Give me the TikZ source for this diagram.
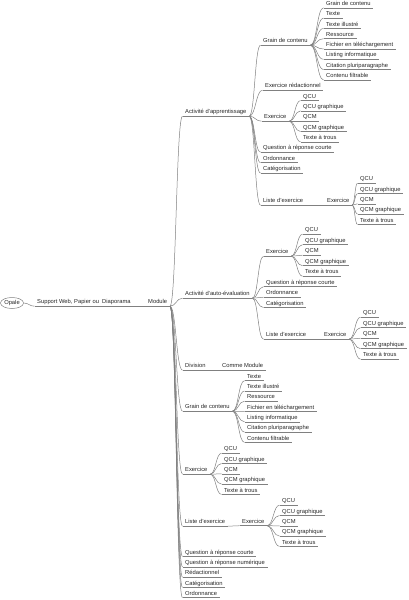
\documentclass[tikz,border=0pt]{standalone}
\usepackage{fontspec}
\setmainfont{Liberation Sans}
\usetikzlibrary{shapes.geometric}
\newcommand\mnode[4]{\node[mnd] (#1) at (#2-2.5,#3+3.2) {#4}; \draw[ul] (#1.south west) -- (#1.south east);}
\newcommand\mlink[2]{\path (#1.south east) -- (#2.south west) coordinate[pos=0.5] (mm);
  \draw[ln] (#1.south east) .. controls (mm |- #1.south east) and (mm |- #2.south west) .. (#2.south west);}
\newcommand\fivex[7]{% prefix, x, y1..y5
  \mnode{#1a}{#2}{#3}{QCU}\mnode{#1b}{#2}{#4}{QCU graphique}\mnode{#1c}{#2}{#5}{QCM}%
  \mnode{#1d}{#2}{#6}{QCM graphique}\mnode{#1e}{#2}{#7}{Texte à trous}}
\begin{document}
\begin{tikzpicture}[x=1pt,y=-1pt,
  mnd/.style={anchor=south west, inner xsep=2.5pt, inner ysep=1pt, text height=4.3pt, text depth=1.2pt,
    font=\fontsize{5.8}{6}\selectfont, text=black!85},
  ul/.style={draw=black!50, line width=0.5pt},
  ln/.style={draw=black!50, line width=0.5pt}]
\useasboundingbox (0,0) rectangle (408,600);
% root
\node[draw=black!50, line width=0.5pt, ellipse, minimum width=23pt, minimum height=11pt, inner sep=0pt,
  font=\fontsize{5.8}{6}\selectfont, text=black!85] (opale) at (12,303) {Opale};
\mnode{sup}{37}{303}{Support Web, Papier ou\ \ Diaporama}
\mnode{mod}{148}{303}{Module}
\draw[ln] (opale.east) .. controls +(5,0) and +(-5,0) .. (sup.south west);
\mlink{sup}{mod}
% level 2
\mnode{A}{185}{113}{Activité d'apprentissage}
\mnode{B}{185}{295}{Activité d'auto-évaluation}
\mnode{C}{185}{367}{Division}
\mnode{D}{185}{408}{Grain de contenu}
\mnode{E}{185}{471}{Exercice}
\mnode{F}{185}{523}{Liste d'exercice}
\mnode{G}{185}{553.3}{Question à réponse courte}
\mnode{H}{185}{563.6}{Question à réponse numérique}
\mnode{I}{185}{574}{Rédactionnel}
\mnode{J}{185}{584.2}{Catégorisation}
\mnode{K}{185}{594.5}{Ordonnance}
\foreach \c in {A,B,C,D,E,F,G,H,I,J,K} {\mlink{mod}{\c}}
% A subtree
\mnode{Aa}{263}{42}{Grain de contenu}
\mnode{Aa1}{326}{4.6}{Grain de contenu}
\mnode{Aa2}{326}{14.9}{Texte}
\mnode{Aa3}{326}{25.2}{Texte illustré}
\mnode{Aa4}{326}{35.5}{Ressource}
\mnode{Aa5}{326}{45.8}{Fichier en téléchargement}
\mnode{Aa6}{326}{56.1}{Listing informatique}
\mnode{Aa7}{326}{66.4}{Citation pluriparagraphe}
\mnode{Aa8}{326}{76.7}{Contenu filtrable}
\foreach \c in {1,...,8} {\mlink{Aa}{Aa\c}}
\mnode{Ab}{265}{87}{Exercice rédactionnel}
\mnode{Ac}{264}{118}{Exercice}
\fivex{Ac}{303}{97.4}{107.7}{118}{128.3}{138.6}
\foreach \c in {a,b,c,d,e} {\mlink{Ac}{Ac\c}}
\mnode{Ad}{263}{149}{Question à réponse courte}
\mnode{Ae}{263}{159.5}{Ordonnance}
\mnode{Af}{263}{169.8}{Catégorisation}
\mnode{Ag}{263}{202}{Liste d'exercice}
\mnode{Agx}{327}{202}{Exercice}
\fivex{Agx}{360}{180}{190.3}{200.6}{210.9}{221.2}
\foreach \c in {a,b,c,d,e} {\mlink{Agx}{Agx\c}}
\mlink{Ag}{Agx}
\foreach \c in {Aa,Ab,Ac,Ad,Ae,Af,Ag} {\mlink{A}{\c}}
% B subtree
\mnode{Ba}{266}{253}{Exercice}
\fivex{Ba}{305}{231}{241.5}{252}{262.5}{273}
\foreach \c in {a,b,c,d,e} {\mlink{Ba}{Ba\c}}
\mnode{Bb}{266}{283.5}{Question à réponse courte}
\mnode{Bc}{266}{294}{Ordonnance}
\mnode{Bd}{266}{304.3}{Catégorisation}
\mnode{Be}{266}{336}{Liste d'exercice}
\mnode{Bex}{324}{336}{Exercice}
\fivex{Bex}{363}{314}{324.5}{335}{345.5}{356}
\foreach \c in {a,b,c,d,e} {\mlink{Bex}{Bex\c}}
\mlink{Be}{Bex}
\foreach \c in {Ba,Bb,Bc,Bd,Be} {\mlink{B}{\c}}
% C
\mnode{Ca}{222}{367}{Comme Module}
\mlink{C}{Ca}
% D
\mnode{D1}{247}{377.5}{Texte}
\mnode{D2}{247}{387.8}{Texte illustré}
\mnode{D3}{247}{398}{Ressource}
\mnode{D4}{247}{408.3}{Fichier en téléchargement}
\mnode{D5}{247}{418.6}{Listing informatique}
\mnode{D6}{247}{428.9}{Citation pluriparagraphe}
\mnode{D7}{247}{439.2}{Contenu filtrable}
\foreach \c in {1,...,7} {\mlink{D}{D\c}}
% E
\fivex{E}{224}{450}{460.3}{470.6}{480.9}{491.2}
\foreach \c in {a,b,c,d,e} {\mlink{E}{E\c}}
% F
\mnode{Fx}{242}{522.5}{Exercice}
\fivex{Fx}{282}{502}{512.3}{522.6}{532.9}{543.2}
\foreach \c in {a,b,c,d,e} {\mlink{Fx}{Fx\c}}
\mlink{F}{Fx}
\end{tikzpicture}
\end{document}
